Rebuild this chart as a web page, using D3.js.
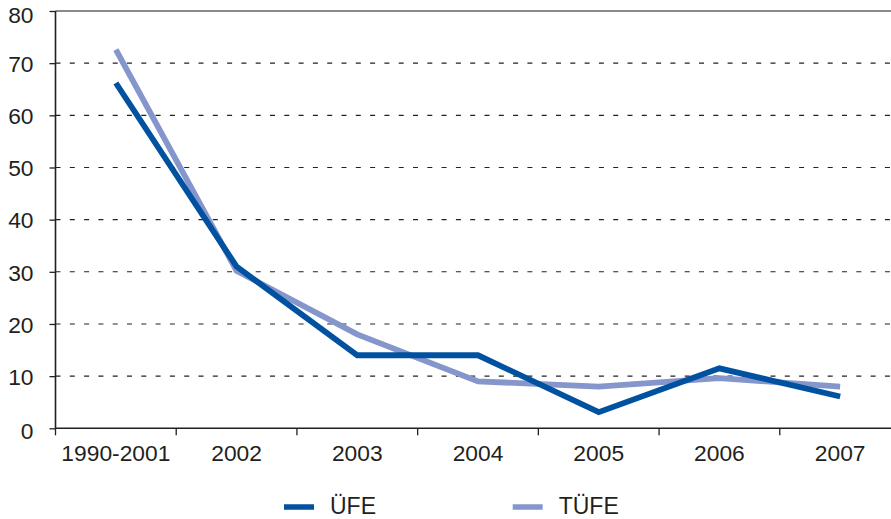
<!DOCTYPE html>
<html><head><meta charset="utf-8">
<script src="https://cdn.jsdelivr.net/npm/d3@7"></script>
<style>
html,body{margin:0;padding:0;background:#fff;}
svg{display:block;font-family:"Liberation Sans",Arial,Helvetica,sans-serif;}
</style></head>
<body><svg id="chart" width="891" height="519"></svg>
<script>
const categories = ["1990-2001","2002","2003","2004","2005","2006","2007"];
const ufe  = [66.2, 31.0, 14.0, 14.0, 3.1, 11.5, 6.1];
const tufe = [72.6, 30.2, 18.0, 9.0, 8.0, 9.6, 8.0];
const yTicks = [0,10,20,30,40,50,60,70,80];
const seriesNames = ["ÜFE","TÜFE"];
const seriesColors = ["#0052a1","#8496cb"];

(function(){
const svg = d3.select("#chart");
const W = 891;
const mLeft = 55.5, mTop = 11, mBottom = 428.3, rightBand = 900.5;
const fs = "22.8px";

const x = d3.scaleBand().domain(categories).range([mLeft, rightBand]);
const y = d3.scaleLinear().domain([0,80]).range([mBottom, mTop]);

// gridlines
svg.append("g").selectAll("line").data(yTicks.filter(t=>t>0 && t<80)).join("line")
  .attr("x1", mLeft).attr("x2", W)
  .attr("y1", d=>y(d)).attr("y2", d=>y(d))
  .attr("stroke","#222").attr("stroke-width",1.1)
  .attr("stroke-dasharray","5,9.3");

// top border
svg.append("line").attr("x1",mLeft).attr("x2",W).attr("y1",y(80)).attr("y2",y(80))
  .attr("stroke","#8a8a8a").attr("stroke-width",2);

// y axis
const yAxis = svg.append("g").attr("transform",`translate(${mLeft},0)`)
  .call(d3.axisLeft(y).tickValues(yTicks).tickSize(6).tickPadding(16).tickFormat(d3.format("d")));
yAxis.select(".domain").attr("stroke","#231f20").attr("stroke-width",1.6).attr("d",`M0,${mTop}V${mBottom}`);
yAxis.selectAll(".tick line").attr("stroke","#231f20").attr("stroke-width",1.3);
yAxis.selectAll(".tick text").attr("fill","#231f20").style("font-size",fs)
  .attr("font-family","Liberation Sans, Arial, sans-serif")
  .attr("dy", d => d===80 ? "0.5em" : d===0 ? "0.45em" : "0.36em");

// x axis
const xAxis = svg.append("g").attr("transform",`translate(0,${mBottom})`)
  .call(d3.axisBottom(x).tickSize(0).tickPadding(17));
xAxis.select(".domain").attr("stroke","#231f20").attr("stroke-width",1.6).attr("d",`M${mLeft},0H${W}`);
xAxis.selectAll(".tick text").attr("fill","#231f20").style("font-size",fs)
  .attr("font-family","Liberation Sans, Arial, sans-serif");
// band boundary ticks
svg.append("g").selectAll("line").data(categories).join("line")
  .attr("x1", d=>x(d)).attr("x2", d=>x(d))
  .attr("y1", mBottom).attr("y2", mBottom+7)
  .attr("stroke","#231f20").attr("stroke-width",1.3);

// lines
const line = d3.line().x((d,i)=>x(categories[i])+x.bandwidth()/2).y(d=>y(d));
[[tufe,1],[ufe,0]].forEach(([s,idx])=>{
  svg.append("path").datum(s).attr("d", line)
    .attr("fill","none").attr("stroke", seriesColors[idx])
    .attr("stroke-width",5.8).attr("stroke-linejoin","miter").attr("stroke-linecap","butt");
});

// legend
const legendX = [284, 512.7];
const lg = svg.append("g");
seriesNames.forEach((n,i)=>{
  lg.append("line").attr("x1",legendX[i]).attr("x2",legendX[i]+30)
    .attr("y1",507).attr("y2",507)
    .attr("stroke",seriesColors[i]).attr("stroke-width",5.5);
  lg.append("text").attr("x",legendX[i]+46).attr("y",513.5)
    .attr("fill","#231f20").style("font-size","23px").text(n);
});
})();
</script></body></html>
